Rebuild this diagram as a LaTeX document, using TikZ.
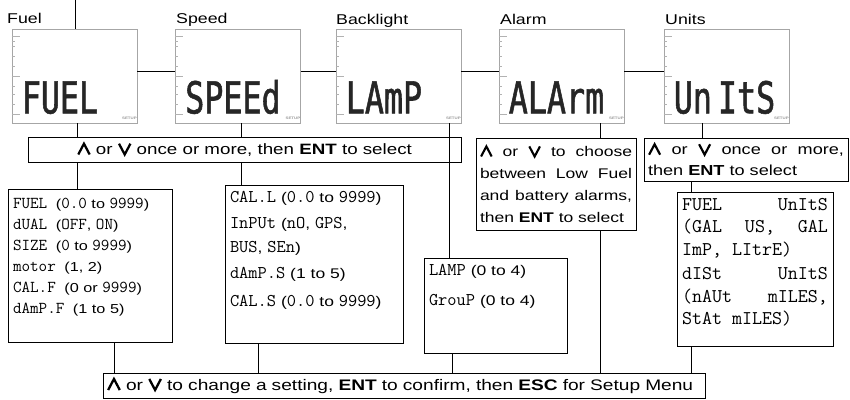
\documentclass[tikz,border=0pt]{standalone}
\usepackage{fontspec}
\setmainfont{Liberation Sans}[FakeStretch=1.25]
\setmonofont{Latin Modern Mono}[Scale=1.28]
\newfontfamily\lcdfont{DejaVu Sans Mono}[FakeStretch=0.72, FakeBold=1.2]
\usetikzlibrary{positioning}
\newcommand{\upk}{\tikz[baseline=0pt]\draw[line width=0.15em, line join=miter]
  (0,0) -- (0.38em,0.72em) -- (0.76em,0);}
\newcommand{\dnk}{\tikz[baseline=0pt]\draw[line width=0.15em, line join=miter]
  (0,0.72em) -- (0.38em,0) -- (0.76em,0.72em);}
\newcommand{\entkey}{\textbf{ENT}}
\newcommand{\code}[1]{\texttt{#1}}

\begin{document}
\begin{tikzpicture}[x=1pt, y=-1pt,
    lcd/.style={draw=gray!70, line width=0.8pt, minimum width=125pt,
                minimum height=94pt, inner sep=0pt},
    lcdword/.style={font=\lcdfont\fontsize{44}{44}\selectfont,
                    anchor=base west, inner sep=0pt, text=black!85},
    setup/.style={font=\bfseries\fontsize{3.5}{4}\selectfont, text=gray!80, inner sep=0pt},
    lcdtick/.style={draw=gray!60, line width=0.6pt},
    title/.style={anchor=base west, inner sep=0pt, font=\fontsize{14.2}{16}\selectfont},
    note/.style={draw, line width=0.9pt, inner sep=4pt, font=\fontsize{14}{22}\selectfont},
    info/.style={draw, line width=0.9pt, inner xsep=5pt, inner ysep=6pt},
    link/.style={line width=0.9pt},
]
\useasboundingbox (0,0) rectangle (850,399);
% display screens
\node[lcd] (fuelLCD)  at (74.5,76) {};
\node[lcd] (speedLCD) at (238,76) {};
\node[lcd] (lampLCD)  at (398.5,76) {};
\node[lcd] (alarmLCD) at (561.5,76) {};
\node[lcd] (unitsLCD) at (726.5,76) {};
\foreach \scr/\word in {fuelLCD/FUEL, speedLCD/SPEEd, lampLCD/LAmP, alarmLCD/ALArm,
                        unitsLCD/Un\hspace{-13pt} ItS} {
  \node[lcdword] (\scr-word) at ([shift={(10,-10)}]\scr.south west) {\word};
  \node[setup] (\scr-setup) at ([shift={(-8,-5)}]\scr.south east) {SETUP};
  \foreach \t in {13,18,28,38,58,66,76}
    \draw[lcdtick] ([yshift=-\t]\scr.north west) -- ++(3,0);
  \foreach \t in {8,48,86}
    \draw[lcdtick] ([yshift=-\t]\scr.north west) -- ++(8,0);
}
% screen titles
\node[title] (fuelTitle)  at (7,23)   {Fuel};
\node[title] (speedTitle) at (176,23) {Speed};
\node[title] (lampTitle)  at (336,24) {Backlight};
\node[title] (alarmTitle) at (500,24) {Alarm};
\node[title] (unitsTitle) at (665,24) {Units};

% instruction boxes
\node[note, minimum width=433pt, minimum height=25pt, font=\fontsize{15}{18}\selectfont]
  (selBox) at (244.5,149.5) {\upk{} or \dnk{} once or more, then \entkey{} to select};
\node[note, text width=152pt, align=justify, minimum height=92pt]
  (alarmNote) at (556,184) {\upk{} or \dnk{} to choose between Low Fuel and battery alarms, then \entkey{} to select};
\node[note, text width=196pt, align=justify, minimum height=43pt, font=\fontsize{14.5}{21}\selectfont]
  (unitsNote) at (746,159.5) {\upk{} or \dnk{} once or more, then \entkey{} to select};
\node[note, text width=594pt, align=left, minimum height=25pt, font=\fontsize{15.3}{18}\selectfont]
  (bottomBox) at (404,385.5) {\upk{} or \dnk{} to change a setting, \entkey{} to confirm, then \textbf{ESC} for Setup Menu};

% setting lists
\node[info] (fuelInfo) at (90,265.5) {\parbox[c][141pt][t]{154pt}{\raggedright\fontsize{13}{21}\selectfont
  \vspace*{3pt}
  \code{FUEL }(\code{0.0} to \code{9999})\\
  \code{dUAL }(\code{OFF}, \code{ON})\\
  \code{SIZE }(\code{0} to \code{9999})\\
  \code{motor }(1, 2)\\
  \code{CAL.F }(0 or \code{9999})\\
  \code{dAmP.F }(1 to 5)}};
\node[info] (speedInfo) at (314,264) {\parbox[c][146pt][t]{168pt}{\raggedright\fontsize{14}{24}\selectfont
  \code{CAL.L} (\code{0.0} to \code{9999})\\[2pt]
  \code{InPUt} (\code{nO}, \code{GPS},\\
  \code{BUS}, \code{SEn})\\[2pt]
  \code{dAmP.S} (1 to 5)\\[4pt]
  \code{CAL.S} (\code{0.0} to \code{9999})}};
\node[info] (lampInfo) at (495.5,305.5) {\parbox[c][83pt][t]{133pt}{\raggedright\fontsize{14}{24}\selectfont
  \code{LAMP} (0 to 4)\\[6pt]
  \code{GrouP} (0 to 4)}};
\node[info] (unitsInfo) at (755,269) {\parbox[c][142pt][t]{146pt}{\fontsize{15.2}{22.5}\selectfont\ttfamily
  FUEL\hfill UnItS\\
  (GAL\hfill US,\hfill GAL\\
  ImP, LItrE)\\[2pt]
  dISt\hfill UnItS\\
  (nAUt\hfill mILES,\\
  StAt mILES)}};

% lanes for the connectors
\coordinate (entry) at (75,0);
\coordinate (fuelLane) at (77,0);
\coordinate (speedLane) at (241,0);
\coordinate (lampLane) at (449,0);
\coordinate (alarmLane) at (600,0);
\coordinate (unitsLane) at (702,0);
\coordinate (unitsLow) at (691,0);
\coordinate (fuelLow) at (114,0);
\coordinate (speedLow) at (258,0);
\coordinate (lampLow) at (452,0);

\draw[link] (entry) -- (entry |- fuelLCD.north);
\draw[link] ([yshift=5]fuelLCD.east) -- ([yshift=5]speedLCD.west);
\draw[link] ([yshift=5]speedLCD.east) -- ([yshift=5]lampLCD.west);
\draw[link] ([yshift=5]lampLCD.east) -- ([yshift=5]alarmLCD.west);
\draw[link] ([yshift=5]alarmLCD.east) -- ([yshift=5]unitsLCD.west);

\draw[link] (fuelLane |- fuelLCD.south) -- (fuelLane |- selBox.north);
\draw[link] (speedLane |- speedLCD.south) -- (speedLane |- selBox.north);
\draw[link] (fuelLane |- selBox.south) -- (fuelLane |- fuelInfo.north);
\draw[link] (speedLane |- selBox.south) -- (speedLane |- speedInfo.north);
\draw[link] (lampLane |- lampLCD.south) -- (lampLane |- lampInfo.north);
\draw[link] (alarmLane |- alarmLCD.south) -- (alarmLane |- alarmNote.north);
\draw[link] (unitsLane |- unitsLCD.south) -- (unitsLane |- unitsNote.north);
\draw[link] (unitsLow |- unitsNote.south) -- (unitsLow |- unitsInfo.north);

\draw[link] (fuelLow |- fuelInfo.south) -- (fuelLow |- bottomBox.north);
\draw[link] (speedLow |- speedInfo.south) -- (speedLow |- bottomBox.north);
\draw[link] (lampLow |- lampInfo.south) -- (lampLow |- bottomBox.north);
\draw[link] (alarmLane |- alarmNote.south) -- (alarmLane |- bottomBox.north);
\draw[link] (unitsLow |- unitsInfo.south) -- (unitsLow |- bottomBox.north);
\end{tikzpicture}
\end{document}
